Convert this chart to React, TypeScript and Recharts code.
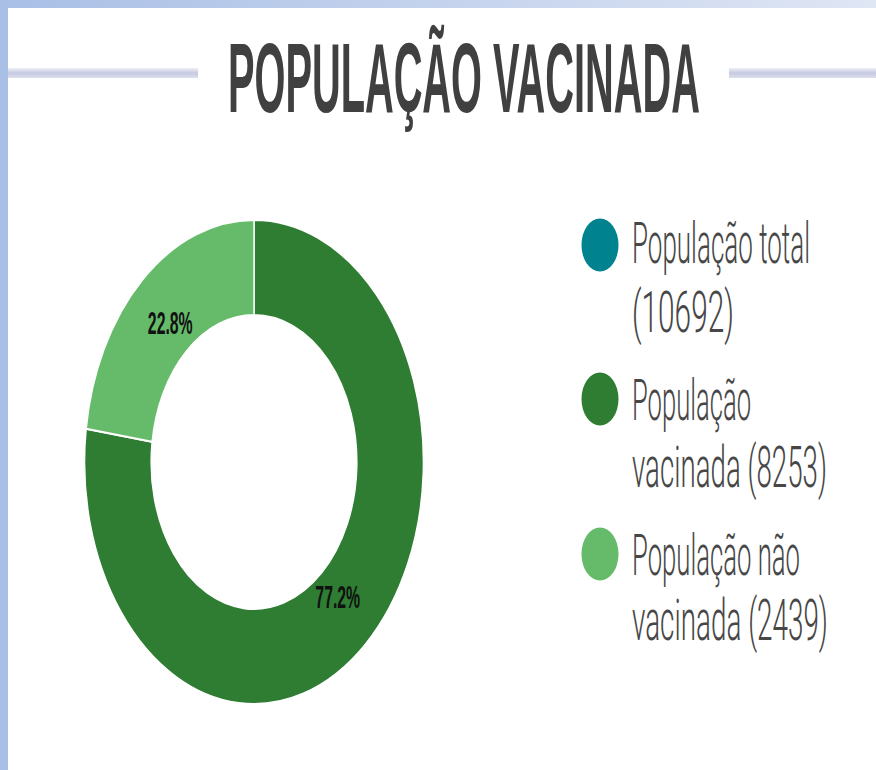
import React from 'react';
import { PieChart, Pie, Cell } from 'recharts';

// dados do gráfico
const CATEGORIES = ['População vacinada', 'População não vacinada'];
const VALUES = [8253, 2439];
const SLICE_COLORS = ['#2e7d32', '#66bb6a'];

// legenda (inclui o total, que não é fatia)
const LEGEND_LINES = [
  ['População total', '(10692)'],
  ['População', 'vacinada (8253)'],
  ['População não', 'vacinada (2439)'],
];
const LEGEND_COLORS = ['#00838f', '#2e7d32', '#66bb6a'];

const TITLE = 'POPULAÇÃO VACINADA';

// a imagem original está comprimida na horizontal
const SQUEEZE = 0.7;
const RADIAN = Math.PI / 180;

const data = CATEGORIES.map((name, i) => ({ name, value: VALUES[i] }));

// posições da legenda (px finais)
const legendLayout = [
  { cy: 245, base: [263, 332], widths: [178, 102] },
  { cy: 399, base: [420, 487], widths: [119, 195] },
  { cy: 554, base: [575, 640], widths: [168, 196] },
];

// mede o texto no canvas para espremer com transform (mantém a caixa real)
let measureCtx: CanvasRenderingContext2D | null = null;
const measure = (text: string, font: string) => {
  if (!measureCtx) measureCtx = document.createElement('canvas').getContext('2d');
  if (!measureCtx) return 0;
  measureCtx.font = font;
  return measureCtx.measureText(text).width;
};

interface FitTextProps {
  x: number;
  y: number;
  width: number;
  size: number;
  weight: number;
  family: string;
  fill: string;
  children: string;
}

const FitText = ({ x, y, width, size, weight, family, fill, children }: FitTextProps) => {
  const natural = measure(children, `${weight} ${size}px ${family}`);
  const sx = natural > 0 ? width / natural : 1;
  return (
    <text
      transform={`translate(${x},${y}) scale(${sx},1)`}
      x={0}
      y={0}
      fill={fill}
      fontSize={size}
      fontWeight={weight}
      fontFamily={family}
    >
      {children}
    </text>
  );
};

const BOLD_FAMILY = "'Liberation Sans', Arial, sans-serif";
const LIGHT_FAMILY = "Roboto, 'Liberation Sans', sans-serif";

const renderLabel = (props: any) => {
  const { cx, cy, midAngle, innerRadius, outerRadius, percent } = props;
  const r = innerRadius + (outerRadius - innerRadius) * 0.37;
  const x = cx + r * Math.cos(-midAngle * RADIAN);
  const y = cy + r * Math.sin(-midAngle * RADIAN);
  return (
    <FitText x={x - 32} y={y + 9} width={64} size={31} weight={700} family={BOLD_FAMILY} fill="#111">
      {`${(percent * 100).toFixed(1)}%`}
    </FitText>
  );
};

const lineStyle = {
  position: 'absolute' as const,
  top: 68,
  height: 10,
  background: 'linear-gradient(to bottom, #eef0f7, #c6cae1 50%, #dde0ee)',
};

export default function App() {
  return (
    <div
      style={{
        position: 'absolute',
        left: 0,
        top: 0,
        width: 876,
        height: 770,
        overflow: 'hidden',
        background: '#fff',
      }}
    >
      {/* moldura azul */}
      <div style={{ position: 'absolute', left: 0, top: 0, width: 876, height: 8, background: 'linear-gradient(to right, #a9bfe6, #dfe6f4)' }} />
      <div style={{ position: 'absolute', left: 0, top: 0, width: 8, height: 770, background: '#a9bfe6' }} />

      {/* linhas do título */}
      <div style={{ ...lineStyle, left: 8, width: 190 }} />
      <div style={{ ...lineStyle, left: 729, width: 147 }} />

      {/* gráfico de rosca, esticado na vertical */}
      <div
        style={{
          position: 'absolute',
          left: 0,
          top: 0,
          width: 876 / SQUEEZE,
          height: 770,
          transform: `scaleX(${SQUEEZE})`,
          transformOrigin: 'left top',
        }}
      >
        <PieChart width={876 / SQUEEZE} height={770} margin={{ top: 0, right: 0, bottom: 0, left: 0 }}>
          <Pie
            data={data}
            dataKey="value"
            nameKey="name"
            cx={254 / SQUEEZE}
            cy={462}
            innerRadius={147}
            outerRadius={242}
            startAngle={90}
            endAngle={-270}
            stroke="#ffffff"
            strokeWidth={2}
            label={renderLabel}
            labelLine={false}
            isAnimationActive={false}
          >
            {data.map((d, i) => (
              <Cell key={d.name} fill={SLICE_COLORS[i]} />
            ))}
          </Pie>
        </PieChart>
      </div>

      <svg width={876} height={770} style={{ position: 'absolute', left: 0, top: 0, pointerEvents: 'none' }}>
        <FitText x={228} y={112} width={472} size={99} weight={700} family={BOLD_FAMILY} fill="#404040">
          {TITLE}
        </FitText>

        {LEGEND_LINES.map((lines, i) => (
          <g key={i}>
            <ellipse cx={600} cy={legendLayout[i].cy} rx={18.5} ry={26.5} fill={LEGEND_COLORS[i]} />
            {lines.map((t, j) => (
              <FitText
                key={j}
                x={632}
                y={legendLayout[i].base[j]}
                width={legendLayout[i].widths[j]}
                size={58}
                weight={300}
                family={LIGHT_FAMILY}
                fill="#474747"
              >
                {t}
              </FitText>
            ))}
          </g>
        ))}
      </svg>
    </div>
  );
}
